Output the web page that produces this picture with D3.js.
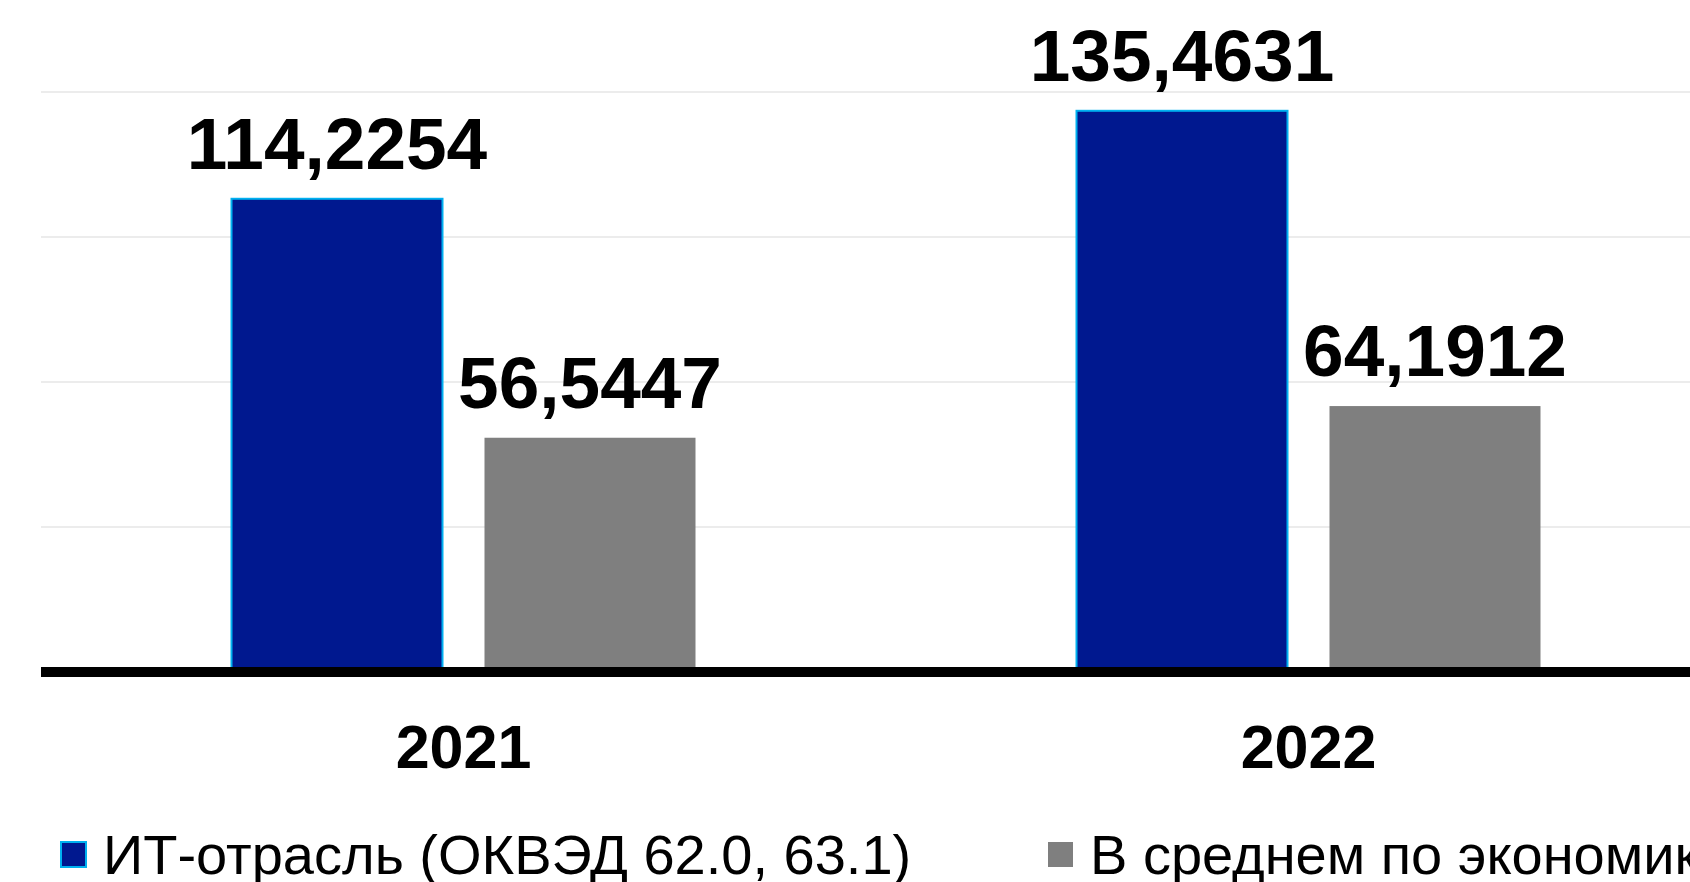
<!DOCTYPE html>
<html>
<head>
<meta charset="utf-8">
<script src="https://cdn.jsdelivr.net/npm/d3@7"></script>
<style>
  html, body { margin: 0; padding: 0; background: #fff; overflow: hidden; }
  svg { display: block; font-family: "Liberation Sans", Arial, sans-serif; }
</style>
</head>
<body>
<div id="root"></div>
<script>
// data
const years = ["2021", "2022"];
const seriesNames = ["ИТ-отрасль (ОКВЭД 62.0, 63.1)", "В среднем по экономике"];
const itValues = [114.2254, 135.4631];
const avgValues = [56.5447, 64.1912];
const valueLabels = [["114,2254", "135,4631"], ["56,5447", "64,1912"]];
const gridTicks = [35, 70, 105, 140];

const w = 1690, h = 882;
const margin = { left: 41, top: 92, bottom: 672 };
const colors = ["#00188f", "#7f7f7f"];
const strokes = ["#00b0f0", "none"];

const svg = d3.select("#root")
  .append("svg")
    .attr("width", w)
    .attr("height", h);

// plot runs past the right edge like the original (it is cropped)
const x = d3.scaleBand()
  .domain(years)
  .range([margin.left, margin.left + 845 * 2])
  .padding(0);

const xInner = d3.scaleBand()
  .domain([0, 1])
  .range([0, x.bandwidth()])
  .paddingInner(0.166)
  .paddingOuter(0.753);

const y = d3.scaleLinear()
  .domain([0, 140])
  .range([margin.bottom, margin.top]);

// gridlines
svg.append("g")
  .selectAll("line")
  .data(gridTicks)
  .enter().append("line")
    .attr("x1", margin.left)
    .attr("x2", w)
    .attr("y1", d => y(d))
    .attr("y2", d => y(d))
    .attr("stroke", "#ececec")
    .attr("stroke-width", 2);

const rows = [itValues, avgValues];
const bars = [];
rows.forEach((vals, s) => {
  vals.forEach((v, i) => bars.push({ s: s, year: years[i], v: v, label: valueLabels[s][i] }));
});

svg.append("g")
  .selectAll("rect")
  .data(bars)
  .enter().append("rect")
    .attr("x", d => x(d.year) + xInner(d.s))
    .attr("y", d => y(d.v))
    .attr("width", xInner.bandwidth())
    .attr("height", d => y(0) - y(d.v))
    .attr("fill", d => colors[d.s])
    .attr("stroke", d => strokes[d.s])
    .attr("stroke-width", 2);

svg.append("g")
  .selectAll("text")
  .data(bars)
  .enter().append("text")
    .attr("x", d => x(d.year) + xInner(d.s) + xInner.bandwidth() / 2)
    .attr("y", d => y(d.v) - 30)
    .attr("text-anchor", "middle")
    .style("font-size", "73px")
    .style("font-weight", "bold")
    .text(d => d.label);

// thick baseline
svg.append("line")
  .attr("x1", margin.left)
  .attr("x2", w)
  .attr("y1", y(0))
  .attr("y2", y(0))
  .attr("stroke", "#000")
  .attr("stroke-width", 10);

// category labels
svg.append("g")
  .selectAll("text")
  .data(years)
  .enter().append("text")
    .attr("x", d => x(d) + x.bandwidth() / 2)
    .attr("y", 768)
    .attr("text-anchor", "middle")
    .style("font-size", "61px")
    .style("font-weight", "bold")
    .text(d => d);

// legend
const legendX = [61, 1048];
const legend = svg.append("g")
  .selectAll("g")
  .data(seriesNames)
  .enter().append("g")
    .attr("transform", (d, i) => "translate(" + legendX[i] + ",842)");

legend.append("rect")
  .attr("width", 25)
  .attr("height", 25)
  .attr("fill", (d, i) => colors[i])
  .attr("stroke", (d, i) => strokes[i])
  .attr("stroke-width", 2);

legend.append("text")
  .attr("x", 42)
  .attr("y", 32)
  .style("font-size", "56px")
  .text(d => d);
</script>
</body>
</html>
